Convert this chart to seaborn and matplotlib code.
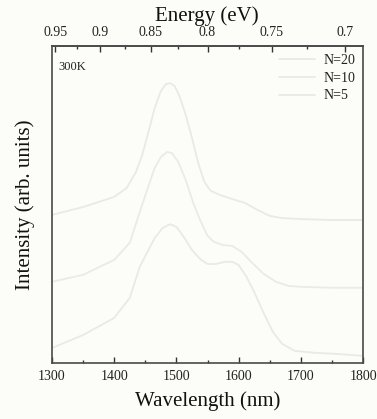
import numpy as np
import pandas as pd
import matplotlib
matplotlib.use("Agg")
import matplotlib.pyplot as plt
from matplotlib.ticker import FixedLocator, NullFormatter
import seaborn as sns

# Photoluminescence spectra at 300 K, stacked with a vertical offset
wl_n20 = [1300, 1350, 1400, 1420, 1435, 1445, 1455, 1465, 1475, 1483, 1490, 1497, 1505,
          1515, 1525, 1535, 1545, 1555, 1570, 1590, 1610, 1630, 1650, 1670, 1700, 1750, 1800]
int_n20 = [0.467, 0.492, 0.524, 0.552, 0.603, 0.656, 0.729, 0.804, 0.858, 0.880, 0.883,
           0.874, 0.842, 0.782, 0.710, 0.631, 0.571, 0.543, 0.530, 0.517, 0.505, 0.483,
           0.464, 0.457, 0.454, 0.451, 0.451]

wl_n10 = [1300, 1350, 1400, 1425, 1441, 1455, 1465, 1475, 1485, 1493, 1503, 1515, 1527,
          1538, 1550, 1560, 1575, 1590, 1605, 1620, 1640, 1660, 1680, 1700, 1750, 1800]
int_n10 = [0.256, 0.278, 0.325, 0.379, 0.476, 0.558, 0.615, 0.650, 0.666, 0.662, 0.634,
           0.577, 0.505, 0.451, 0.401, 0.382, 0.372, 0.369, 0.350, 0.319, 0.281, 0.256,
           0.243, 0.240, 0.237, 0.237]

wl_n5 = [1300, 1350, 1400, 1425, 1441, 1455, 1465, 1478, 1490, 1500, 1512, 1525, 1538,
         1550, 1563, 1578, 1590, 1600, 1612, 1625, 1640, 1655, 1670, 1690, 1720, 1760, 1800]
int_n5 = [0.047, 0.088, 0.142, 0.205, 0.303, 0.356, 0.394, 0.426, 0.438, 0.429, 0.397,
          0.356, 0.328, 0.312, 0.312, 0.319, 0.319, 0.309, 0.274, 0.224, 0.158, 0.098,
          0.060, 0.038, 0.032, 0.028, 0.022]

series_labels = ["N=20", "N=10", "N=5"]
energy_ticks = [0.95, 0.9, 0.85, 0.8, 0.75, 0.7]
energy_minor = [0.925, 0.875, 0.825, 0.775, 0.725]
wl_ticks = [1300, 1400, 1500, 1600, 1700, 1800]
wl_minor = [1350, 1450, 1550, 1650, 1750]

df = pd.concat([
    pd.DataFrame({"Wavelength": wl_n20, "Intensity": int_n20, "N": series_labels[0]}),
    pd.DataFrame({"Wavelength": wl_n10, "Intensity": int_n10, "N": series_labels[1]}),
    pd.DataFrame({"Wavelength": wl_n5, "Intensity": int_n5, "N": series_labels[2]}),
], ignore_index=True)

sns.set_theme(style="ticks")
plt.rcParams["font.family"] = ["Liberation Serif", "DejaVu Serif"]
plt.rcParams["axes.edgecolor"] = "#4a4a4a"

bg = "#fcfcf8"
fig = plt.figure(figsize=(3.77, 4.19), dpi=100, facecolor=bg)
ax = fig.add_axes([0.138, 0.134, 0.825, 0.756], facecolor=bg)

palette = {"N=20": "#e9e9e7", "N=10": "#eaeae8", "N=5": "#e9e9e7"}
sns.lineplot(data=df, x="Wavelength", y="Intensity", hue="N", hue_order=series_labels,
             palette=palette, linewidth=1.3, ax=ax, sort=False, estimator=None)
for ln in ax.get_lines():
    ln.set_solid_joinstyle("round")

ax.set_xlim(1300, 1800)
ax.set_ylim(0, 1)
ax.set_xticks(wl_ticks)
ax.xaxis.set_minor_locator(FixedLocator(wl_minor))
ax.set_yticks([])
ax.tick_params(axis="x", which="major", direction="in", length=4, width=1,
               labelsize=10, pad=5, colors="#333333", labelcolor="#222222")
ax.tick_params(axis="x", which="minor", direction="in", length=2.5, width=1,
               colors="#333333")
for s in ax.spines.values():
    s.set_visible(True)
    s.set_linewidth(1.2)
ax.set_xlabel("Wavelength (nm)", fontsize=15, color="#111111", labelpad=6)
ax.set_ylabel("Intensity (arb. units)", fontsize=15, color="#111111", labelpad=12)

# Photon energy on the top axis, E = 1240 / lambda
sec = ax.secondary_xaxis("top", functions=(lambda x: 1240.0 / np.asarray(x, float),
                                           lambda e: 1240.0 / np.asarray(e, float)))
sec.set_xticks(energy_ticks)
sec.set_xticklabels([f"{e:g}" for e in energy_ticks])
sec.xaxis.set_minor_locator(FixedLocator(energy_minor))
sec.xaxis.set_minor_formatter(NullFormatter())
sec.tick_params(axis="x", which="major", direction="in", length=4, width=1,
                labelsize=10, pad=5, colors="#333333", labelcolor="#222222")
sec.tick_params(axis="x", which="minor", direction="in", length=2.5, width=1,
                colors="#333333")
sec.spines["top"].set_linewidth(1.2)
fig.text(0.548, 0.962, "Energy (eV)", ha="center", va="center", fontsize=15,
         color="#111111")

ax.text(0.02, 0.935, "300K", transform=ax.transAxes, fontsize=9, color="#222222",
        ha="left", va="center")

leg = ax.legend(loc="upper right", frameon=False, fontsize=10, handlelength=2.6,
                handletextpad=0.6, labelspacing=0.35, borderaxespad=0.15)
for t in leg.get_texts():
    t.set_color("#222222")

fig.savefig("out.png", dpi=100, facecolor=bg)
